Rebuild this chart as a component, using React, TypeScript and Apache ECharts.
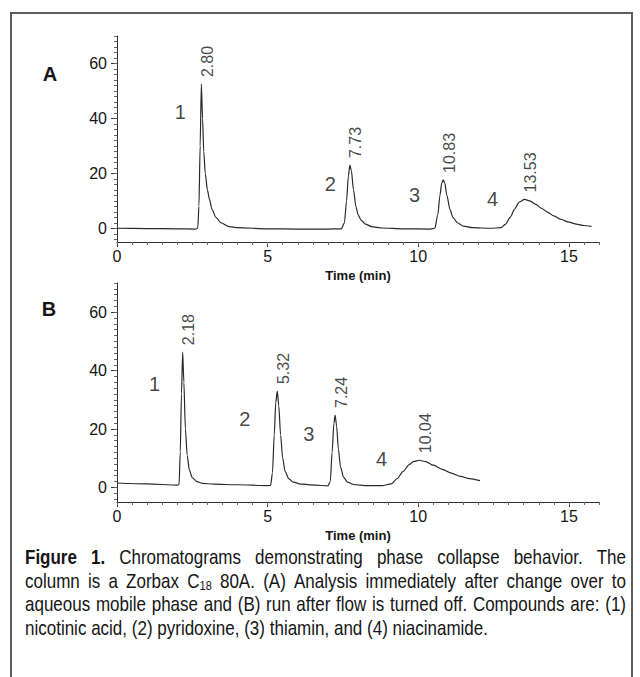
import React, { useEffect, useRef } from "react";
import * as echarts from "echarts";

// ---------- data ----------
const timeA = [0, 1, 2, 2.6, 2.68, 2.72, 2.76, 2.8, 2.84, 2.88, 2.93, 3.0, 3.07, 3.15, 3.28, 3.45, 3.72, 4.0, 5, 6, 7, 7.45, 7.55, 7.62, 7.68, 7.73, 7.78, 7.85, 7.93, 8.0, 8.1, 8.25, 8.45, 8.8, 9.5, 10.4, 10.55, 10.65, 10.72, 10.78, 10.83, 10.88, 10.95, 11.05, 11.15, 11.3, 11.5, 11.8, 12.4, 12.75, 12.9, 13.05, 13.2, 13.35, 13.53, 13.7, 13.9, 14.1, 14.3, 14.5, 14.75, 15.0, 15.25, 15.5, 15.75];
const signalA = [0, -0.1, -0.2, -0.3, 0, 8, 30, 52.5, 40, 28, 20, 14, 10.5, 7, 4, 2, 0.6, 0.2, -0.2, -0.3, -0.3, -0.2, 2, 10, 19, 23, 21, 14, 8, 5, 3, 1.5, 0.6, 0.1, -0.2, -0.3, 0, 5, 12, 16.5, 17.6, 16.5, 12, 7, 4, 2, 0.8, 0.2, 0, 0.2, 1.5, 4, 7, 9.5, 10.5, 10, 8.7, 7.2, 5.8, 4.5, 3.2, 2.2, 1.5, 1.0, 0.7];

const timeB = [0, 1, 2.0, 2.06, 2.1, 2.14, 2.18, 2.22, 2.27, 2.33, 2.4, 2.5, 2.65, 2.85, 3.2, 4, 5.0, 5.1, 5.16, 5.22, 5.27, 5.32, 5.37, 5.43, 5.5, 5.58, 5.7, 5.85, 6.1, 6.6, 7.0, 7.08, 7.14, 7.2, 7.24, 7.29, 7.35, 7.42, 7.52, 7.65, 7.85, 8.3, 8.8, 9.1, 9.3, 9.5, 9.7, 9.85, 10.04, 10.25, 10.5, 10.8, 11.1, 11.4, 11.7, 12.05];
const signalB = [1.5, 1.2, 0.8, 1, 12, 32, 46.3, 36, 20, 11, 6, 3.3, 2, 1.4, 1.1, 0.9, 0.6, 0.7, 5, 18, 29, 33, 28, 18, 10, 5.5, 3, 1.8, 1.1, 0.8, 0.5, 2, 12, 22, 24.8, 21, 13, 7, 3.5, 1.8, 1, 0.6, 0.6, 1.2, 3, 5.5, 7.8, 8.9, 9.3, 8.8, 7.6, 6.2, 4.9, 3.8, 3, 2.3];

const peakTimesA = [2.8, 7.73, 10.83, 13.53];
const peakHeightsA = [52.5, 23, 17.6, 10.5];
const peakTimesB = [2.18, 5.32, 7.24, 10.04];
const peakHeightsB = [46.3, 33, 24.8, 9.3];

const compoundNames = ["1", "2", "3", "4"];
const compoundTimeA = [2.1, 7.08, 9.88, 12.47];
const compoundLevelA = [42.4, 16.1, 12.1, 10.6];
const compoundTimeB = [1.25, 4.24, 6.37, 8.78];
const compoundLevelB = [35.4, 23.5, 18.2, 9.8];

const xMajorTicks = [0, 5, 10, 15];
const xMinorTicks = [0, 0.5, 1, 1.5, 2, 2.5, 3, 3.5, 4, 4.5, 5, 5.5, 6, 6.5, 7, 7.5, 8, 8.5, 9, 9.5, 10, 10.5, 11, 11.5, 12, 12.5, 13, 13.5, 14, 14.5, 15, 15.5, 16];
const yMajorTicks = [0, 20, 40, 60];
const yMinorTicks = [-4, -2, 0, 2, 4, 6, 8, 10, 12, 14, 16, 18, 20, 22, 24, 26, 28, 30, 32, 34, 36, 38, 40, 42, 44, 46, 48, 50, 52, 54, 56, 58, 60, 62, 64, 66, 68, 70];

const panelNames = ["A", "B"];
const xTitle = "Time (min)";

const captionLines = [
  "Figure 1. Chromatograms demonstrating phase collapse behavior. The",
  "column is a Zorbax C_18 80A. (A) Analysis immediately after change over to",
  "aqueous mobile phase and (B) run after flow is turned off. Compounds are: (1)",
  "nicotinic acid, (2) pyridoxine, (3) thiamin, and (4) niacinamide.",
];

// ---------- styles ----------
const FONT = '"Liberation Sans", Arial, sans-serif';
const CAPTION_FONT = '"Liberation Sans", Arial, sans-serif';
const INK = "#151515";
const AXIS = "#333";

function buildCaption(): any[] {
  const canvas = document.createElement("canvas");
  const ctx = canvas.getContext("2d") as CanvasRenderingContext2D;
  const size = 20;
  const subSize = 13;
  const measure = (s: string, bold: boolean, sz: number) => {
    ctx.font = `${bold ? "bold " : ""}${sz}px ${CAPTION_FONT}`;
    return ctx.measureText(s).width;
  };
  const left = 25;
  const right = 626;
  const lastLineEnd = 488;
  const ys = [557, 580.5, 604, 627.5];
  // horizontal compression so that the condensed look of the original is kept
  const natural4 = measure(captionLines[3], false, size);
  const sx = Math.min(1, (lastLineEnd - left) / natural4);
  const els: any[] = [];
  const textEl = (text: string, x: number, y: number, sz: number, bold: boolean) => ({
    type: "text", x, y, scaleX: sx, scaleY: 1,
    style: {
      text, fontSize: sz, fontFamily: CAPTION_FONT, fontWeight: bold ? "bold" : "normal",
      fill: INK, verticalAlign: "middle", textVerticalAlign: "middle",
    },
  });
  captionLines.forEach((line, i) => {
    const words = line.split(" ");
    const widths = words.map((w, j) => {
      const bold = i === 0 && j < 2;
      if (w.startsWith("C_")) return (measure("C", false, size) + measure(w.slice(2), false, subSize)) * sx;
      return measure(w, bold, size) * sx;
    });
    const sum = widths.reduce((a, b) => a + b, 0);
    const gap = i < 3 ? (right - left - sum) / (words.length - 1) : measure(" ", false, size) * sx;
    let x = left;
    words.forEach((w, j) => {
      const bold = i === 0 && j < 2;
      if (w.startsWith("C_")) {
        const cw = measure("C", false, size) * sx;
        els.push(textEl("C", x, ys[i], size, false));
        els.push(textEl(w.slice(2), x + cw, ys[i] + 5, subSize, false));
      } else {
        els.push(textEl(w, x, ys[i], size, bold));
      }
      x += widths[j] + gap;
    });
  });
  return els;
}

function xMain(gridIndex: number) {
  return {
    type: "value", gridIndex, min: 0, max: 16, position: "bottom",
    name: xTitle, nameLocation: "middle", nameGap: 27,
    nameTextStyle: { fontFamily: FONT, fontWeight: "bold", fontSize: 13, color: INK },
    axisLine: { show: true, onZero: false, lineStyle: { color: AXIS, width: 1 } },
    axisTick: { show: true, customValues: xMajorTicks, length: 5, lineStyle: { color: AXIS, width: 1 } },
    axisLabel: { show: true, customValues: xMajorTicks, margin: 6, fontSize: 16, fontFamily: FONT, color: INK },
    splitLine: { show: false },
  };
}
function xMinor(gridIndex: number) {
  return {
    type: "value", gridIndex, min: 0, max: 16, position: "bottom",
    axisLine: { show: false, onZero: false },
    axisTick: { show: true, customValues: xMinorTicks, length: 3, lineStyle: { color: "#666", width: 1 } },
    axisLabel: { show: false },
    splitLine: { show: false },
  };
}
function yMain(gridIndex: number) {
  return {
    type: "value", gridIndex, min: -5, max: 70, position: "left",
    axisLine: { show: true, onZero: false, lineStyle: { color: AXIS, width: 1 } },
    axisTick: { show: true, customValues: yMajorTicks, length: 6, lineStyle: { color: AXIS, width: 1 } },
    axisLabel: { show: true, customValues: yMajorTicks, margin: 10, fontSize: 16, fontFamily: FONT, color: INK },
    splitLine: { show: false },
  };
}
function yMinor(gridIndex: number) {
  return {
    type: "value", gridIndex, min: -5, max: 70, position: "left",
    axisLine: { show: false, onZero: false },
    axisTick: { show: true, customValues: yMinorTicks, length: 3, lineStyle: { color: "#666", width: 1 } },
    axisLabel: { show: false },
    splitLine: { show: false },
  };
}

function traceSeries(axisIdx: number, times: number[], values: number[]) {
  return {
    type: "line", xAxisIndex: axisIdx, yAxisIndex: axisIdx,
    data: times.map((t, i) => [t, values[i]]),
    showSymbol: false, symbol: "none", smooth: 0.25, smoothMonotone: "x",
    lineStyle: { color: "#2a2a2a", width: 1.2 }, silent: true, z: 3,
  };
}
function peakLabelSeries(axisIdx: number, times: number[], heights: number[]) {
  return {
    type: "scatter", xAxisIndex: axisIdx, yAxisIndex: axisIdx,
    data: times.map((t, i) => [t, heights[i]]),
    symbol: "circle", symbolSize: 2, itemStyle: { color: "rgba(0,0,0,0)" }, silent: true, z: 5,
    label: {
      show: true, formatter: (p: any) => Number(p.value[0]).toFixed(2),
      position: [7, -6], align: "left", verticalAlign: "middle", rotate: 90,
      fontSize: 16, fontFamily: FONT, color: INK,
    },
  };
}
function compoundSeries(axisIdx: number, times: number[], levels: number[]) {
  return {
    type: "scatter", xAxisIndex: axisIdx, yAxisIndex: axisIdx,
    data: times.map((t, i) => [t, levels[i]]),
    symbol: "circle", symbolSize: 2, itemStyle: { color: "rgba(0,0,0,0)" }, silent: true, z: 5,
    label: {
      show: true, formatter: (p: any) => compoundNames[p.dataIndex],
      position: "inside", align: "center", verticalAlign: "middle",
      fontSize: 20, fontFamily: FONT, color: INK,
    },
  };
}

export default function App() {
  const ref = useRef<HTMLDivElement>(null);
  useEffect(() => {
    if (!ref.current) return;
    const chart = echarts.init(ref.current, null, { renderer: "svg" });
    const grids = [
      { left: 117, top: 36, width: 482, height: 206, outerBoundsMode: "none", containLabel: false },
      { left: 117, top: 283, width: 482, height: 219, outerBoundsMode: "none", containLabel: false },
    ];
    const option: any = {
      animation: false,
      backgroundColor: "#ffffff",
      grid: grids,
      xAxis: [xMain(0), xMinor(0), xMain(1), xMinor(1)],
      yAxis: [yMain(0), yMinor(0), yMain(1), yMinor(1)],
      series: [
        traceSeries(0, timeA, signalA),
        peakLabelSeries(0, peakTimesA, peakHeightsA),
        compoundSeries(0, compoundTimeA, compoundLevelA),
        traceSeries(2, timeB, signalB),
        peakLabelSeries(2, peakTimesB, peakHeightsB),
        compoundSeries(2, compoundTimeB, compoundLevelB),
      ],
      graphic: [
        {
          type: "rect", shape: { x: 11, y: 13, width: 621, height: 700 },
          style: { fill: "none", stroke: "#5e5e5e", lineWidth: 2 }, silent: true,
        },
        {
          type: "text", x: 50, y: 74,
          style: { text: panelNames[0], fontSize: 20, fontWeight: "bold", fontFamily: FONT, fill: INK, align: "center", verticalAlign: "middle", textAlign: "center", textVerticalAlign: "middle" },
        },
        {
          type: "text", x: 49, y: 309,
          style: { text: panelNames[1], fontSize: 20, fontWeight: "bold", fontFamily: FONT, fill: INK, align: "center", verticalAlign: "middle", textAlign: "center", textVerticalAlign: "middle" },
        },
        ...buildCaption(),
      ],
    };
    chart.setOption(option);
    return () => chart.dispose();
  }, []);
  return <div ref={ref} style={{ position: "absolute", left: 0, top: 0, width: 640, height: 677 }} />;
}
